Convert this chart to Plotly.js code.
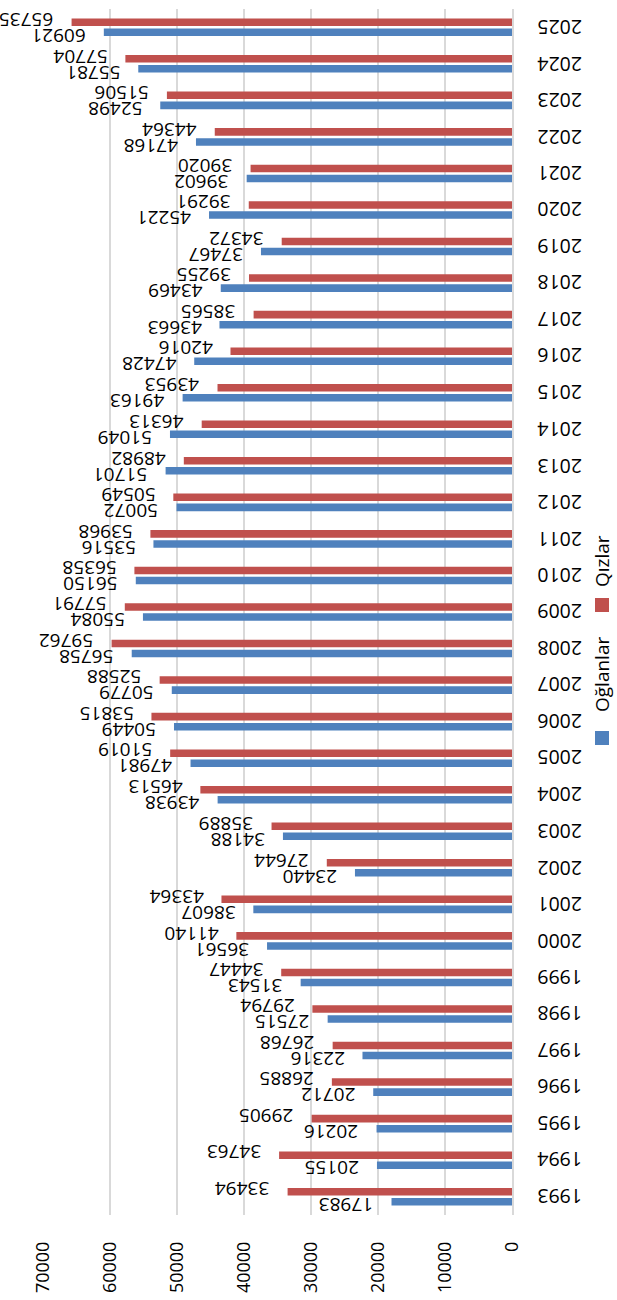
<!DOCTYPE html>
<html>
<head>
<meta charset="utf-8">
<script src="https://cdn.plot.ly/plotly-3.0.1.min.js"></script>
<style>html,body{margin:0;padding:0;background:#fff;}#chart{width:617px;height:1300px;}</style>
</head>
<body>
<div id="chart"></div>
<script>
const years = ["1993","1994","1995","1996","1997","1998","1999","2000","2001","2002","2003","2004","2005","2006","2007","2008","2009","2010","2011","2012","2013","2014","2015","2016","2017","2018","2019","2020","2021","2022","2023","2024","2025"];
const boys  = [17983,20155,20216,20712,22316,27515,31543,36561,38607,23440,34188,43938,47981,50449,50779,56758,55084,56150,53516,50072,51701,51049,49163,47428,43663,43469,37467,45221,39602,47168,52498,55781,60921];
const girls = [33494,34763,29905,26885,26768,29794,34447,41140,43364,27644,35889,46513,51019,53815,52588,59762,57791,56358,53968,50549,48982,46313,43953,42016,38565,39255,34372,39291,39020,44364,51506,57704,65735];
const seriesNames = ["Oğlanlar","Qızlar"];
const tickVals = [0,10000,20000,30000,40000,50000,60000,70000];

const BLUE = "#4F81BD", RED = "#C0504D";
const FONT = "Open Sans, Noto Sans, sans-serif";

const traces = [
  {type:"bar", orientation:"h", name:seriesNames[0], y:years, x:boys, marker:{color:BLUE}, hoverinfo:"none"},
  {type:"bar", orientation:"h", name:seriesNames[1], y:years, x:girls, marker:{color:RED}, hoverinfo:"none"}
];

const W=469, H=1206, L=43, B=1215;
function px(x){return (x-L)/W;}
function py(y){return (B-y)/H;}

const annotations = [];
function addLabels(vals, shiftY){
  vals.forEach((v,i)=>{
    annotations.push({x:v, y:i, xref:"x", yref:"y", text:String(v), showarrow:false,
      textangle:180, xanchor:"right", yanchor:"middle", xshift:-16, yshift:shiftY,
      font:{family:FONT, size:19, color:"#000"}});
  });
}
addLabels(boys, -8.5);
addLabels(girls, 7.5);

// category labels (upside down, as in the reference)
years.forEach((yr,i)=>{
  annotations.push({xref:"paper", yref:"y", x:px(560), y:i, text:yr, showarrow:false, textangle:180,
    xanchor:"center", yanchor:"middle", font:{family:FONT, size:19.5, color:"#000"}});
});

// rotated legend
annotations.push({xref:"paper", yref:"paper", x:px(602), y:py(675), text:seriesNames[0], showarrow:false, textangle:-90,
  xanchor:"center", yanchor:"middle", font:{family:FONT, size:19, color:"#000"}});
annotations.push({xref:"paper", yref:"paper", x:px(602), y:py(561), text:seriesNames[1], showarrow:false, textangle:-90,
  xanchor:"center", yanchor:"middle", font:{family:FONT, size:19, color:"#000"}});
const shapes = [
  {type:"rect", xref:"paper", yref:"paper", x0:px(595), x1:px(609), y0:py(745), y1:py(731), fillcolor:BLUE, line:{width:0}},
  {type:"rect", xref:"paper", yref:"paper", x0:px(595), x1:px(609), y0:py(612), y1:py(598), fillcolor:RED, line:{width:0}}
];

const layout = {
  width:617, height:1300,
  margin:{l:L, r:617-512, t:9, b:1300-B},
  paper_bgcolor:"#fff", plot_bgcolor:"#fff",
  barmode:"group", bargap:0.45, bargroupgap:0.25,
  showlegend:false,
  font:{family:FONT, color:"#000"},
  xaxis:{range:[70000,0], tickvals:tickVals, ticktext:tickVals.map(String), tickangle:-90,
    showgrid:true, gridcolor:"#d9d9d9", gridwidth:1.5, zeroline:false, showline:false,
    ticks:"", ticklabelstandoff:22, tickfont:{family:FONT, size:18, color:"#000"}, fixedrange:true},
  yaxis:{type:"category", range:[-0.5, years.length-0.5], side:"right", showticklabels:false, showgrid:false, zeroline:false,
    showline:true, linecolor:"#d9d9d9", linewidth:2, ticks:"", fixedrange:true},
  annotations:annotations,
  shapes:shapes
};

Plotly.newPlot("chart", traces, layout, {staticPlot:true});
</script>
</body>
</html>
